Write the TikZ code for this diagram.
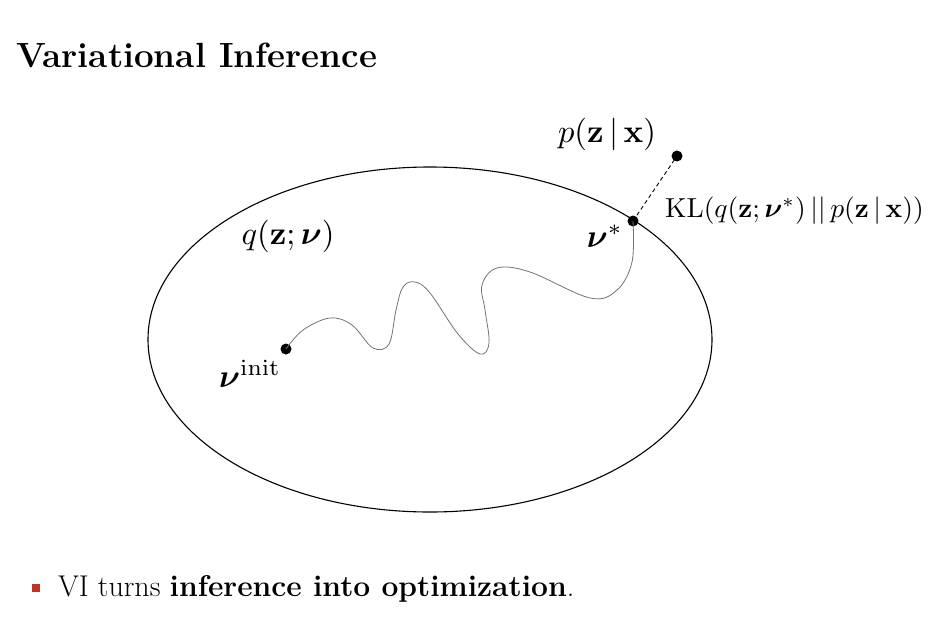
\documentclass[tikz,border=0pt]{standalone}
\usepackage{amsmath,bm,graphicx}
\definecolor{bulletred}{RGB}{192,52,36}
\begin{document}
\begin{tikzpicture}[x=1pt,y=-1pt,
  dotnode/.style={circle,fill=black,inner sep=0pt,minimum size=11pt},
  lbl/.style={inner sep=0pt}]
\useasboundingbox (0,0) rectangle (937,621);
% title
\node[lbl,anchor=base west] (title) at (16,67) {\fontsize{35}{42}\selectfont\bfseries Variational Inference};
% ellipse
\draw[line width=1.1pt] (430,339.5) ellipse [x radius=282, y radius=172.5];
% dots
\node[dotnode] (pz) at (677,156) {};
\node[dotnode] (vstar) at (633,221) {};
\node[dotnode] (vinit) at (286,349) {};
% dashed KL line
\draw[dash pattern=on 4pt off 3pt,line width=0.9pt] (vstar.center) -- (pz.center);
% wiggly path
\draw[gray!90!black,line width=0.8pt] plot[smooth,tension=0.6] coordinates {
 (286,349) (303,330) (330,318) (352,325) (373,348) (389,344) (396,310) (403,287) (415,282) (430,293) (458,334) (480,354) (489,343) (485,310) (482,285) (497,268) (530,272) (590,298) (617,290) (632,262) (633,221)};
% labels
\node[lbl,anchor=base] (plabel) at (607,142) {\scalebox{3.25}{$p(\mathbf{z}\,|\,\mathbf{x})$}};
\node[lbl,anchor=base west] (kl) at (665,217) {\scalebox{2.75}{$\mathrm{KL}(q(\mathbf{z};\bm{\nu}^*)\,||\,p(\mathbf{z}\,|\,\mathbf{x}))$}};
\node[lbl,anchor=base] (qlabel) at (288,244) {\scalebox{3.25}{$q(\mathbf{z};\bm{\nu})$}};
\node[lbl,anchor=base east] (vslabel) at (623,247) {\scalebox{3.25}{$\bm{\nu}^*$}};
\node[lbl,anchor=base west] (vilabel) at (219,387) {\scalebox{3.25}{$\bm{\nu}^{\mathrm{init}}$}};
% bullet
\node[fill=bulletred,inner sep=0pt,minimum size=8pt] (bsq) at (36,588) {};
\node[lbl,anchor=base west] (btext) at (58,596) {\fontsize{30}{36}\selectfont VI turns \textbf{inference into optimization}.};
\end{tikzpicture}
\end{document}
